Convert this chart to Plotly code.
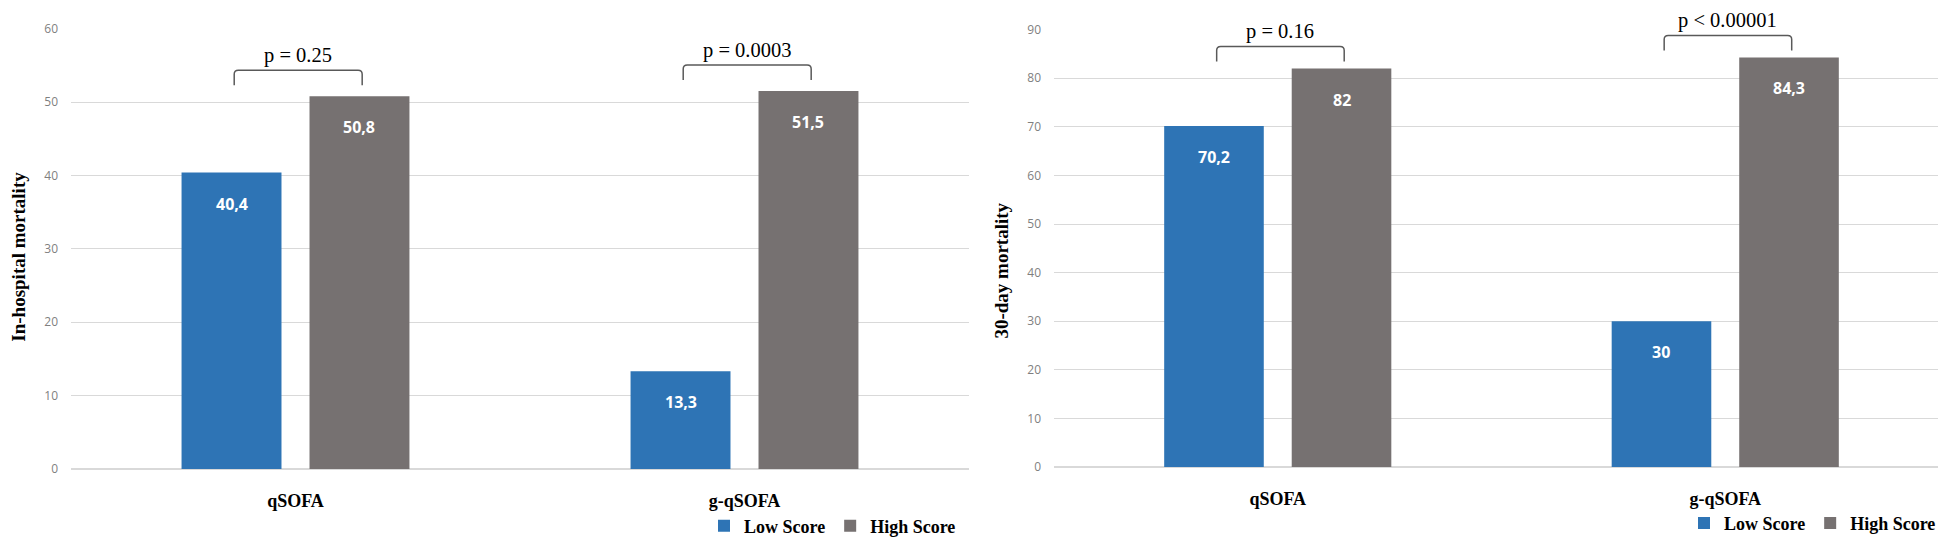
import plotly.graph_objects as go

# ---------------- data ----------------
categories = ["qSOFA", "g-qSOFA"]
series_names = ["Low Score", "High Score"]

inhospital_low = [40.4, 13.3]
inhospital_high = [50.8, 51.5]
inhospital_p = ["p = 0.25", "p = 0.0003"]
inhospital_ticks = [0, 10, 20, 30, 40, 50, 60]

day30_low = [70.2, 30]
day30_high = [82, 84.3]
day30_p = ["p = 0.16", "p < 0.00001"]
day30_ticks = [0, 10, 20, 30, 40, 50, 60, 70, 80, 90]

y_titles = ["In-hospital mortality", "30-day mortality"]

# ---------------- style ----------------
W, H = 1946, 537
BLUE = "#2E74B5"
GREY = "#767171"
GRID = "#D9D9D9"
SERIF = "Liberation Serif"
SANS = "Open Sans"
BARGAP = 0.43
BARGROUPGAP = 0.219


def fmt(v):
    return f"{v:g}".replace(".", ",")


panels = [
    dict(low=inhospital_low, high=inhospital_high, p=inhospital_p, ticks=inhospital_ticks,
         title=y_titles[0], xa="x", ya="y", lg="legend",
         xdom=(63, 961), ydom=(467, 21), title_xy=(11, 252), legend_xy=(953, 525),
         brk=(11, 26, 41)),
    dict(low=day30_low, high=day30_high, p=day30_p, ticks=day30_ticks,
         title=y_titles[1], xa="x2", ya="y2", lg="legend2",
         xdom=(1046, 1941), ydom=(465, 22), title_xy=(994, 266), legend_xy=(1933, 522),
         brk=(7, 22, 37)),
]

fig = go.Figure()
annotations = []
shapes = []
half = (1 - BARGAP) / 4  # offset of each bar centre from category centre

for k, pnl in enumerate(panels):
    xs = list(range(len(categories)))
    for name, vals, col in [(series_names[0], pnl["low"], BLUE), (series_names[1], pnl["high"], GREY)]:
        fig.add_trace(go.Bar(
            x=xs, y=vals, name=name, marker=dict(color=col, line=dict(width=0)),
            xaxis=pnl["xa"], yaxis=pnl["ya"], legend=pnl["lg"],
            hoverinfo="skip",
        ))
    b0, b1, bt = pnl["brk"]
    for i in xs:
        # value labels inside the bar tops
        for sgn, vals in [(-1, pnl["low"]), (1, pnl["high"])]:
            annotations.append(dict(
                x=i + sgn * half, y=vals[i], xref=pnl["xa"], yref=pnl["ya"],
                text=fmt(vals[i]), showarrow=False, yshift=-31, yanchor="middle",
                font=dict(family=SANS, size=16, color="white", weight="bold"),
            ))
        # significance bracket + p value
        gmax = max(pnl["low"][i], pnl["high"][i])
        x0, x1 = i - half + 0.006, i + half + 0.006
        dx = 0.009
        path = (f"M {x0},{b0} L {x0},{b1-4} Q {x0},{b1} {x0+dx},{b1} L {x1-dx},{b1} "
                f"Q {x1},{b1} {x1},{b1-4} L {x1},{b0}")
        shapes.append(dict(type="path", path=path, xref=pnl["xa"], yref=pnl["ya"],
                           ysizemode="pixel", yanchor=gmax,
                           line=dict(color="#595959", width=1.5)))
        annotations.append(dict(
            x=i + 0.006, y=gmax, xref=pnl["xa"], yref=pnl["ya"], text=pnl["p"][i],
            showarrow=False, yshift=bt, yanchor="middle",
            font=dict(family=SERIF, size=20.5, color="black"),
        ))
    # y axis title
    tx, ty = pnl["title_xy"]
    annotations.append(dict(
        x=tx / W, y=(H - ty) / H, xref="paper", yref="paper", text=pnl["title"],
        textangle=-90, showarrow=False, xanchor="center", yanchor="middle",
        font=dict(family=SERIF, size=19, color="black", weight="bold"),
    ))

layout = dict(
    width=W, height=H, autosize=False,
    margin=dict(l=0, r=0, t=0, b=0),
    paper_bgcolor="white", plot_bgcolor="white",
    barmode="group", bargap=BARGAP, bargroupgap=BARGROUPGAP,
    annotations=annotations, shapes=shapes,
)

for k, pnl in enumerate(panels):
    suf = "" if k == 0 else str(k + 1)
    xl, xr = pnl["xdom"]
    yb, yt = pnl["ydom"]
    layout["xaxis" + suf] = dict(
        domain=[xl / W, xr / W], range=[-0.5, len(categories) - 0.5],
        tickvals=list(range(len(categories))), ticktext=categories,
        showgrid=False, zeroline=False, showline=False, ticks="",
        ticklabelstandoff=19, automargin=False, anchor="y" + suf,
        tickfont=dict(family=SERIF, size=18, color="black", weight="bold"),
    )
    layout["yaxis" + suf] = dict(
        domain=[(H - yb) / H, (H - yt) / H], range=[0, max(pnl["ticks"])],
        tickvals=pnl["ticks"], showgrid=True, gridcolor=GRID, gridwidth=1,
        zeroline=True, zerolinecolor=GRID, zerolinewidth=1.5, showline=False,
        ticks="", ticklabelstandoff=12, automargin=False, anchor="x" + suf,
        tickfont=dict(family=SANS, size=12, color="#7F7F7F"),
    )
    lx, ly = pnl["legend_xy"]
    layout[pnl["lg"]] = dict(
        orientation="h", xanchor="right", x=lx / W, yanchor="middle", y=(H - ly) / H,
        font=dict(family=SERIF, size=18, color="black", weight="bold"),
        bgcolor="rgba(0,0,0,0)", itemwidth=30, tracegroupgap=0, traceorder="normal",
    )

fig.update_layout(**layout)
fig.write_html("out.html")
